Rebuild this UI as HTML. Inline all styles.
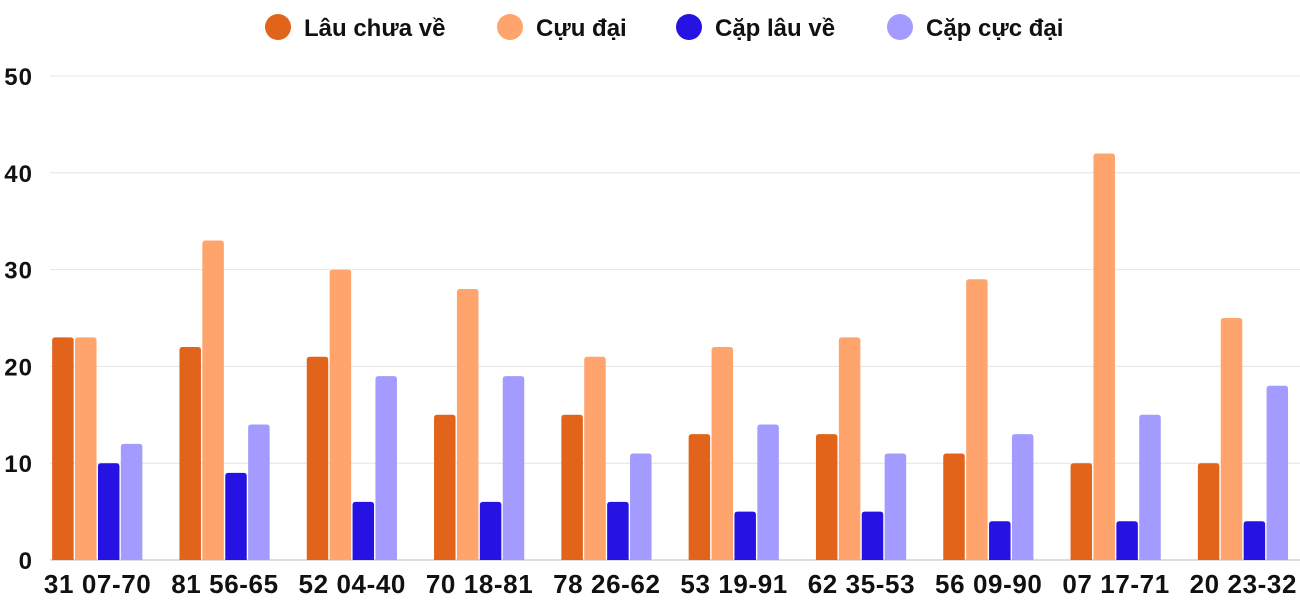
<!DOCTYPE html>
<html><head><meta charset="utf-8"><style>
body{margin:0;background:#fff;}
svg{display:block;font-family:"Liberation Sans",Arial,sans-serif;}
</style></head><body>
<svg id="c" width="1300" height="600"></svg>
<script>
const categories=["31 07-70","81 56-65","52 04-40","70 18-81","78 26-62","53 19-91","62 35-53","56 09-90","07 17-71","20 23-32"];
const lauChuaVe=[23,22,21,15,15,13,13,11,10,10];
const cucDai=[23,33,30,28,21,22,23,29,42,25];
const capLauVe=[10,9,6,6,6,5,5,4,4,4];
const capCucDai=[12,14,19,19,11,14,11,13,15,18];
const yTicks=[0,10,20,30,40,50];
const seriesNames=["Lâu chưa về","Cựu đại","Cặp lâu về","Cặp cực đại"];
const colors=["#E2631A","#FFA46C","#2512E3","#A39BFF"];
const series=[lauChuaVe,cucDai,capLauVe,capCucDai];
const NS="http://www.w3.org/2000/svg";
const svg=document.getElementById('c');
const y0=560,y50=76,left=34,gw=127.3;
const y=v=>y0-(v/50)*(y0-y50);
const xg=i=>left+gw*i;
function el(t,a){const e=document.createElementNS(NS,t);for(const k in a)e.setAttribute(k,a[k]);svg.appendChild(e);return e;}
yTicks.forEach(t=>{
  const l=el('line',{x1:50,x2:1300,y1:y(t),y2:y(t),stroke:t===0?'#bbb':'#e4e4e4','stroke-width':1});
  
  
  const tx=el('text',{x:33,y:y(t)+9,'text-anchor':'end','font-size':24,'font-weight':'bold',fill:'#111','letter-spacing':1});
  tx.textContent=t;
  
  
});
categories.forEach((c,i)=>{
  const cx=xg(i)+gw/2;
  series.forEach((s,j)=>{
    const bx=cx-45.5+j*22.9, top=y(s[i]);
    const r=el('path',{d:`M${bx},${y0} V${top+3} Q${bx},${top} ${bx+3},${top} H${bx+18.5} Q${bx+21.5},${top} ${bx+21.5},${top+3} V${y0} Z`,fill:colors[j]});
    
    
  });
  const t=el('text',{x:cx,y:593,'text-anchor':'middle','font-size':26,'font-weight':'bold',fill:'#111','letter-spacing':0.6});
  t.textContent=c;
  
  
});
const lx=[265,497,676,887];
seriesNames.forEach((n,j)=>{
  const g=document.createElementNS(NS,'g');svg.appendChild(g);
  
  
  const ci=document.createElementNS(NS,'circle');
  ci.setAttribute('cx',lx[j]+13);ci.setAttribute('cy',27);ci.setAttribute('r',13);ci.setAttribute('fill',colors[j]);g.appendChild(ci);
  const t=document.createElementNS(NS,'text');
  t.setAttribute('x',lx[j]+39);t.setAttribute('y',36);t.setAttribute('font-size',24);t.setAttribute('font-weight','bold');t.setAttribute('fill','#111');
  t.textContent=n;g.appendChild(t);
});
</script>
</body></html>
